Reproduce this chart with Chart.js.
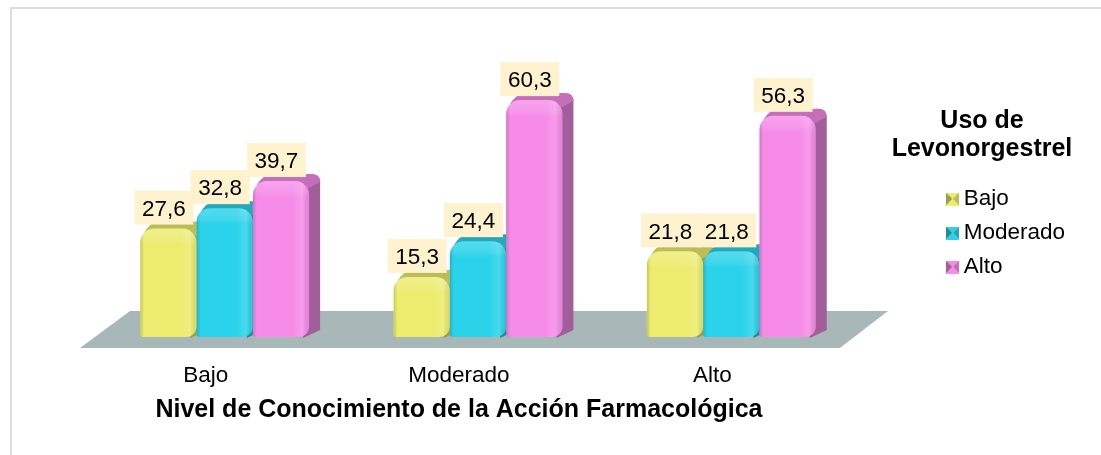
<!DOCTYPE html>
<html>
<head>
<meta charset="utf-8">
<style>
  body { margin: 0; background: #fff; }
  canvas { display: block; }
</style>
<script src="https://cdn.jsdelivr.net/npm/chart.js@4/dist/chart.umd.min.js"></script>
</head>
<body>
<canvas id="chart" width="1101" height="455"></canvas>
<script>
const categories = ['Bajo', 'Moderado', 'Alto'];
const seriesNames = ['Bajo', 'Moderado', 'Alto'];
const bajoValues = [27.6, 15.3, 21.8];
const moderadoValues = [32.8, 24.4, 21.8];
const altoValues = [39.7, 60.3, 56.3];
const legendTitle = ['Uso de', 'Levonorgestrel'];
const axisTitle = 'Nivel de Conocimiento de la Acción Farmacológica';

const fronts = ['#ecec6e', '#2bd3ea', '#f68ce8'];
const tops = ['#bdbd58', '#24a9bc', '#c56fba'];
const sides = ['#9c9c4a', '#1f8c9c', '#a25e9a'];
const FONT = '"Liberation Sans", Arial, sans-serif';
const DEPTH_X = 11, DEPTH_Y = 7;

// little bevelled square for the legend
function legendIcon(i) {
    const c = document.createElement('canvas');
    c.width = 13; c.height = 13;
    const g = c.getContext('2d');
    const tri = (pts, col) => {
        g.fillStyle = col;
        g.beginPath();
        pts.forEach((p, n) => n ? g.lineTo(p[0], p[1]) : g.moveTo(p[0], p[1]));
        g.closePath();
        g.fill();
    };
    tri([[0, 0], [13, 0], [6.5, 6.5]], fronts[i]);
    tri([[0, 0], [0, 13], [6.5, 6.5]], sides[i]);
    tri([[13, 0], [13, 13], [6.5, 6.5]], tops[i]);
    tri([[0, 13], [13, 13], [6.5, 6.5]], fronts[i]);
    return c;
}

const scene3d = {
    id: 'scene3d',
    afterLayout(chart) {
        // legend sits further right than the plot edge
        chart.legend.left = 941;
        chart.legend.top = 176.25;
        chart.legend.right = chart.width;
        chart.legend.bottom = chart.height;
    },
    beforeDraw(chart) {
        const { ctx, width, height } = chart;
        ctx.save();
        ctx.fillStyle = '#dedede';
        ctx.fillRect(10, 7, width - 10, 2);
        ctx.fillRect(10, 7, 2, height - 7);
        ctx.restore();
    },
    beforeDatasetsDraw(chart) {
        const { ctx, scales: { x, y } } = chart;
        const y0 = y.getPixelForValue(0);
        // floor
        ctx.save();
        ctx.fillStyle = '#a8b8b8';
        ctx.beginPath();
        ctx.moveTo(x.left - 18, y0 + 11);
        ctx.lineTo(x.right - 18, y0 + 11);
        ctx.lineTo(x.right + 30, y0 - 26);
        ctx.lineTo(x.left + 32, y0 - 26);
        ctx.closePath();
        ctx.fill();
        // bar side and top faces, behind all the fronts
        chart.data.datasets.forEach((ds, d) => {
            chart.getDatasetMeta(d).data.forEach(bar => {
                const l = bar.x - bar.width / 2, r = bar.x + bar.width / 2;
                ctx.fillStyle = sides[d];
                ctx.beginPath();
                ctx.moveTo(r - 2, bar.y + 6);
                ctx.lineTo(r + DEPTH_X, bar.y - 1);
                ctx.lineTo(r + DEPTH_X, y0 - DEPTH_Y);
                ctx.lineTo(r - 6, y0 + 1);
                ctx.closePath();
                ctx.fill();
                ctx.fillStyle = tops[d];
                ctx.beginPath();
                ctx.moveTo(l + 4, bar.y + 4);
                ctx.quadraticCurveTo(l + 10, bar.y - DEPTH_Y + 1, l + 18, bar.y - DEPTH_Y);
                ctx.lineTo(r + 3, bar.y - DEPTH_Y);
                ctx.quadraticCurveTo(r + DEPTH_X, bar.y - DEPTH_Y, r + DEPTH_X, bar.y + 1);
                ctx.lineTo(r - 2, bar.y + 8);
                ctx.closePath();
                ctx.fill();
            });
        });
        ctx.restore();
    },
    afterDatasetsDraw(chart) {
        const { ctx } = chart;
        ctx.save();
        // shading on the fronts
        chart.data.datasets.forEach((ds, d) => {
            chart.getDatasetMeta(d).data.forEach(bar => {
                const l = bar.x - bar.width / 2, w = bar.width;
                ctx.save();
                ctx.beginPath();
                ctx.roundRect(l, bar.y, w, bar.base - bar.y, [14, 14, 10, 3]);
                ctx.clip();
                const h = ctx.createLinearGradient(l, 0, l + w, 0);
                h.addColorStop(0, 'rgba(0,0,0,0.16)');
                h.addColorStop(0.07, 'rgba(0,0,0,0)');
                h.addColorStop(0.7, 'rgba(255,255,255,0)');
                h.addColorStop(0.88, 'rgba(255,255,255,0.14)');
                h.addColorStop(1, 'rgba(0,0,0,0.08)');
                ctx.fillStyle = h;
                ctx.fillRect(l, bar.y, w, bar.base - bar.y);
                const v = ctx.createLinearGradient(0, bar.y, 0, bar.y + 16);
                v.addColorStop(0, 'rgba(255,255,255,0.2)');
                v.addColorStop(0.7, 'rgba(255,255,255,0.1)');
                v.addColorStop(1, 'rgba(255,255,255,0)');
                ctx.fillStyle = v;
                ctx.fillRect(l, bar.y, w, 16);
                ctx.restore();
            });
        });
        // value labels
        ctx.font = '22.5px ' + FONT;
        ctx.textAlign = 'center';
        ctx.textBaseline = 'middle';
        chart.data.datasets.forEach((ds, d) => {
            chart.getDatasetMeta(d).data.forEach((bar, i) => {
                const cx = bar.x - 4.5, cy = bar.y - 21;
                ctx.fillStyle = '#fff2cf';
                ctx.fillRect(cx - 29.5, cy - 17, 59, 34);
                ctx.fillStyle = '#000';
                ctx.fillText(ds.data[i].toFixed(1).replace('.', ','), cx, cy + 2);
            });
        });
        ctx.restore();
    },
    afterDraw(chart) {
        const { ctx, scales: { x } } = chart;
        ctx.save();
        ctx.fillStyle = '#000';
        ctx.font = 'bold 25px ' + FONT;
        ctx.textAlign = 'center';
        ctx.textBaseline = 'middle';
        legendTitle.forEach((t, i) => ctx.fillText(t, 982, 121 + i * 28));
        // axis title is centred on the front edge of the floor, not on the bars
        ctx.fillText(axisTitle, (x.left + x.right) / 2 - 19, 410);
        ctx.restore();
    }
};

new Chart(document.getElementById('chart'), {
    type: 'bar',
    data: {
        labels: categories,
        datasets: [
            { label: seriesNames[0], data: bajoValues, backgroundColor: fronts[0] },
            { label: seriesNames[1], data: moderadoValues, backgroundColor: fronts[1] },
            { label: seriesNames[2], data: altoValues, backgroundColor: fronts[2] },
        ],
    },
    options: {
        responsive: false,
        animation: false,
        layout: { padding: { left: 98, top: 62, right: 109, bottom: 49 } },
        datasets: {
            bar: {
                categoryPercentage: 0.667,
                barPercentage: 1,
                borderRadius: { topLeft: 14, topRight: 14, bottomLeft: 3, bottomRight: 10 },
                borderSkipped: false,
            },
        },
        scales: {
            x: {
                grid: { display: false },
                border: { display: false },
                ticks: { color: '#000', font: { family: FONT, size: 22.5 }, labelOffset: -19, padding: 17 },
            },
            y: { display: false, min: 0, max: 70 },
        },
        plugins: {
            tooltip: { enabled: false },
            legend: {
                position: 'right',
                align: 'start',
                labels: {
                    color: '#000',
                    font: { family: FONT, size: 22.5 },
                    usePointStyle: true,
                    pointStyleWidth: 0.01,
                    boxHeight: 13,
                    padding: 11.5,
                    generateLabels(chart) {
                        return chart.data.datasets.map((ds, i) => ({
                            text: ds.label, datasetIndex: i, pointStyle: legendIcon(i), fontColor: '#000',
                        }));
                    },
                },
            },
        },
    },
    plugins: [scene3d],
});
</script>
</body>
</html>
